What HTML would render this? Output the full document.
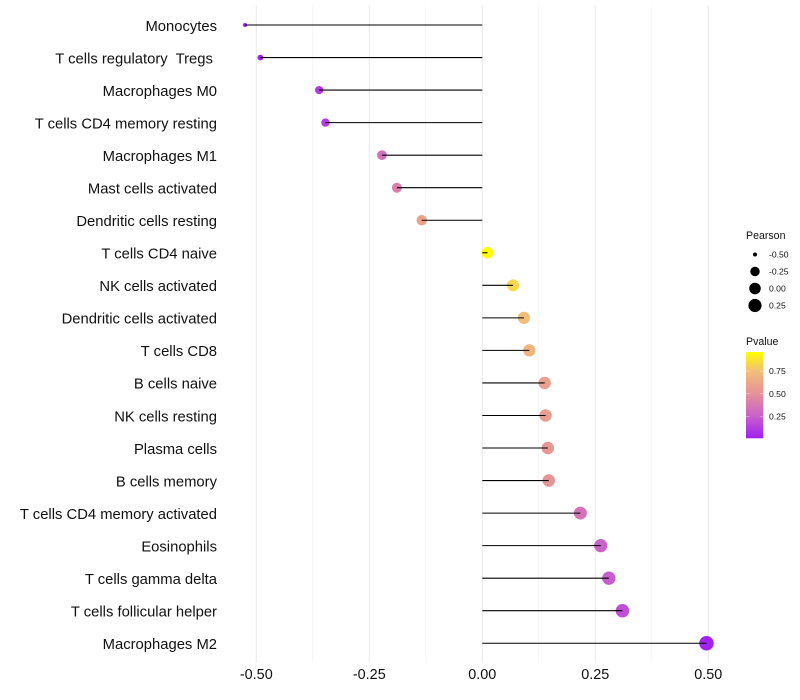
<!DOCTYPE html>
<html>
<head>
<meta charset="utf-8">
<style>
html,body{margin:0;padding:0;background:#fff;}
svg{display:block;font-family:"Liberation Sans",sans-serif;}
</style>
</head>
<body>
<svg id="chart" width="800" height="700" viewBox="0 0 800 700" xmlns="http://www.w3.org/2000/svg">
<defs>
<linearGradient id="pg" x1="0" y1="1" x2="0" y2="0">
<stop offset="0" stop-color="#a020f0"/>
<stop offset="0.253" stop-color="#c85fcd"/>
<stop offset="0.516" stop-color="#e59298"/>
<stop offset="0.779" stop-color="#f3be78"/>
<stop offset="1" stop-color="#ffff00"/>
</linearGradient>
</defs>
<g id="grid"></g>
<g id="points"></g>
<g id="stems"></g>
<g id="ylabels"></g>
<g id="xlabels"></g>
<g id="sizeLegend"></g>
<g id="colorLegend"></g>
</svg>
<script>
var categories = ["Monocytes","T cells regulatory  Tregs ","Macrophages M0","T cells CD4 memory resting","Macrophages M1","Mast cells activated","Dendritic cells resting","T cells CD4 naive","NK cells activated","Dendritic cells activated","T cells CD8","B cells naive","NK cells resting","Plasma cells","B cells memory","T cells CD4 memory activated","Eosinophils","T cells gamma delta","T cells follicular helper","Macrophages M2"];
var pearson = [-0.525,-0.491,-0.361,-0.347,-0.222,-0.189,-0.134,0.0115,0.068,0.092,0.104,0.138,0.14,0.145,0.147,0.217,0.262,0.28,0.31,0.496];
var pvalue = [0.01,0.03,0.11,0.13,0.33,0.40,0.60,0.96,0.83,0.74,0.70,0.58,0.56,0.53,0.51,0.35,0.27,0.24,0.19,0.02];
var xTicks = [-0.5,-0.25,0,0.25,0.5];
var xMinorTicks = [-0.375,-0.125,0.125,0.375];
var sizeLegendValues = [-0.5,-0.25,0,0.25];
var colorLegendValues = [0.25,0.5,0.75];

var NS = "http://www.w3.org/2000/svg";
function mk(parent, tag, attrs, text){
  var e = document.createElementNS(NS, tag);
  for (var k in attrs) e.setAttribute(k, attrs[k]);
  if (text !== undefined) e.textContent = text;
  parent.appendChild(e);
  return e;
}
function sx(v){ return 482.3 + v * 452; }
function sy(i){ return 25 + i * 32.54; }
var pMin = Math.min.apply(null, pearson), pMax = Math.max.apply(null, pearson);
function sd(v){
  var t = (v - pMin) / (pMax - pMin);
  t = Math.max(0, Math.min(1, t));
  return 4 + 10.5 * Math.sqrt(t);
}
var colorStops = [[0.01,[160,32,240]],[0.25,[200,95,205]],[0.5,[229,146,152]],[0.75,[243,190,120]],[0.96,[255,255,0]]];
function sc(p){
  for (var i = 1; i < colorStops.length; i++){
    if (p <= colorStops[i][0]){
      var a = colorStops[i-1], b = colorStops[i];
      var t = Math.max(0, (p - a[0]) / (b[0] - a[0]));
      return "rgb(" + [0,1,2].map(function(j){ return Math.round(a[1][j] + (b[1][j] - a[1][j]) * t); }).join(",") + ")";
    }
  }
  return "rgb(255,255,0)";
}

var grid = document.getElementById("grid");
xMinorTicks.forEach(function(v){
  var l = mk(grid, "line", {x1:sx(v), x2:sx(v), y1:5, y2:662.5, stroke:"#efefef", "stroke-width":0.6});
  
  
});
xTicks.forEach(function(v){
  var l = mk(grid, "line", {x1:sx(v), x2:sx(v), y1:5, y2:662.5, stroke:"#ebebeb", "stroke-width":1.07});
  
  
});

var points = document.getElementById("points"), stems = document.getElementById("stems");
var ylabels = document.getElementById("ylabels"), xlabels = document.getElementById("xlabels");
categories.forEach(function(c, i){
  var pt = mk(points, "circle", {cx:sx(pearson[i]), cy:sy(i), r:sd(pearson[i]) / 2, fill:sc(pvalue[i])});
  
  
  var st = mk(stems, "line", {x1:sx(0), x2:sx(pearson[i]), y1:sy(i), y2:sy(i), stroke:"#000", "stroke-width":1.07});
  
  
  var t = mk(ylabels, "text", {x:217, y:sy(i) + 5.8, "text-anchor":"end", "font-size":14.8, fill:"#111", "xml:space":"preserve", style:"white-space:pre"}, c);
  
  
});
xTicks.forEach(function(v){
  var t = mk(xlabels, "text", {x:sx(v), y:679, "text-anchor":"middle", "font-size":14.4, fill:"#111"}, v.toFixed(2));
  
  
});

var sl = document.getElementById("sizeLegend");
var slt = mk(sl, "text", {x:746, y:239, "font-size":10.6, fill:"#111"}, "Pearson");


sizeLegendValues.forEach(function(v, i){
  var y = 254.5 + i * 17;
  var c = mk(sl, "circle", {cx:755, cy:y, r:sd(v) / 2 - (i === 0 ? 0.8 : 0), fill:"#000"});
  
  
  var t = mk(sl, "text", {x:769, y:y + 3, "font-size":8.6, fill:"#111"}, v.toFixed(2));
  
  
});

var cl = document.getElementById("colorLegend");
var clt = mk(cl, "text", {x:746, y:345, "font-size":10.6, fill:"#111"}, "Pvalue");


var bar = mk(cl, "rect", {x:746, y:352, width:17.3, height:86.3, fill:"url(#pg)"});


function cy(p){ return 439 - p * 90.5; }
colorLegendValues.forEach(function(v){
  var y = cy(v);
  var a = mk(cl, "line", {x1:746, x2:749.5, y1:y, y2:y, stroke:"#fff", "stroke-opacity":0.6, "stroke-width":0.6});
  
  
  var b = mk(cl, "line", {x1:759.8, x2:763.3, y1:y, y2:y, stroke:"#fff", "stroke-opacity":0.6, "stroke-width":0.6});
  
  
  var t = mk(cl, "text", {x:769, y:y + 3, "font-size":8.6, fill:"#111"}, v.toFixed(2));
  
  
});
</script>
</body>
</html>
